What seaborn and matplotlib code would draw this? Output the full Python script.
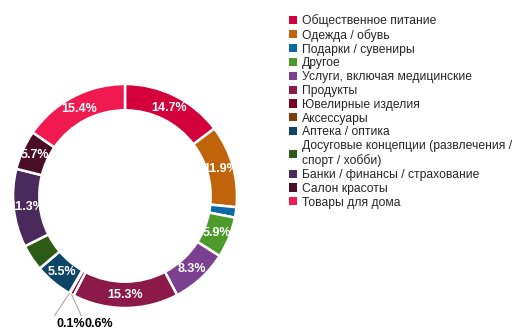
import numpy as np
import matplotlib
matplotlib.use("Agg")
import matplotlib.pyplot as plt
from matplotlib.patches import Patch
import seaborn as sns

categories = [
    "Общественное питание",
    "Одежда / обувь",
    "Подарки / сувениры",
    "Другое",
    "Услуги, включая медицинские",
    "Продукты",
    "Ювелирные изделия",
    "Аксессуары",
    "Аптека / оптика",
    "Досуговые концепции (развлечения /\nспорт / хобби)",
    "Банки / финансы / страхование",
    "Салон красоты",
    "Товары для дома",
]
values = [14.7, 11.9, 1.5, 5.9, 8.3, 15.3, 0.6, 0.1, 5.5, 3.8, 11.3, 5.7, 15.4]
colors = ["#D4003B", "#C0640C", "#0B6AA3", "#4C9A2A", "#7B4090", "#8C1A48",
          "#7A0026", "#7B3F0A", "#0D4566", "#2E5A17", "#4A2A5C", "#4A0E26", "#F01A50"]
inside_min = 5.0
outside_labels = {6: (-0.23, -1.14), 7: (-0.48, -1.14)}  # text offsets for tiny slices

sns.set_theme(style="white")
plt.rcParams["font.family"] = ["Liberation Sans", "DejaVu Sans"]
palette = sns.color_palette(colors)

W, H = 518, 336
fig = plt.figure(figsize=(W / 100, H / 100), dpi=100)
cx, cy, R = 125, 196, 112
ax = fig.add_axes([(cx - R) / W, (H - cy - R) / H, 2 * R / W, 2 * R / H])

width = 0.235
wedges, _ = ax.pie(values, colors=palette, startangle=90, counterclock=False,
                   radius=1.0,
                   wedgeprops=dict(width=width, edgecolor="white", linewidth=1.8))
ax.set_xlim(-1, 1)
ax.set_ylim(-1, 1)
ax.set_aspect("equal")
ax.axis("off")

total = sum(values)
cum = 0.0
rmid = 1 - width / 2
for i, v in enumerate(values):
    mid = (cum + v / 2) / total * 2 * np.pi
    cum += v
    sx, sy = np.sin(mid), np.cos(mid)
    if v >= inside_min:
        ax.text(rmid * sx, rmid * sy, f"{v:.1f}%", ha="center", va="center",
                color="white", fontsize=9, fontweight="bold", clip_on=False)
    elif i in outside_labels:
        tx, ty = outside_labels[i]
        lx = tx - 0.15 if i == 7 else tx - 0.16
        ax.plot([sx, lx], [sy, ty + 0.07], color="#AAAAAA", lw=0.8, clip_on=False)
        ax.text(tx, ty, f"{v:.1f}%", ha="center", va="center", color="black",
                fontsize=9, fontweight="bold", clip_on=False)

handles = [Patch(facecolor=c, edgecolor="none") for c in palette]
fig.legend(handles, categories, loc="upper left",
           bbox_to_anchor=(289 / W, 1 - 14 / H), frameon=False,
           fontsize=8.7, handlelength=0.65, handleheight=0.65,
           handletextpad=0.45, labelspacing=0.15, borderpad=0, borderaxespad=0)

fig.savefig("out.png", dpi=100)
